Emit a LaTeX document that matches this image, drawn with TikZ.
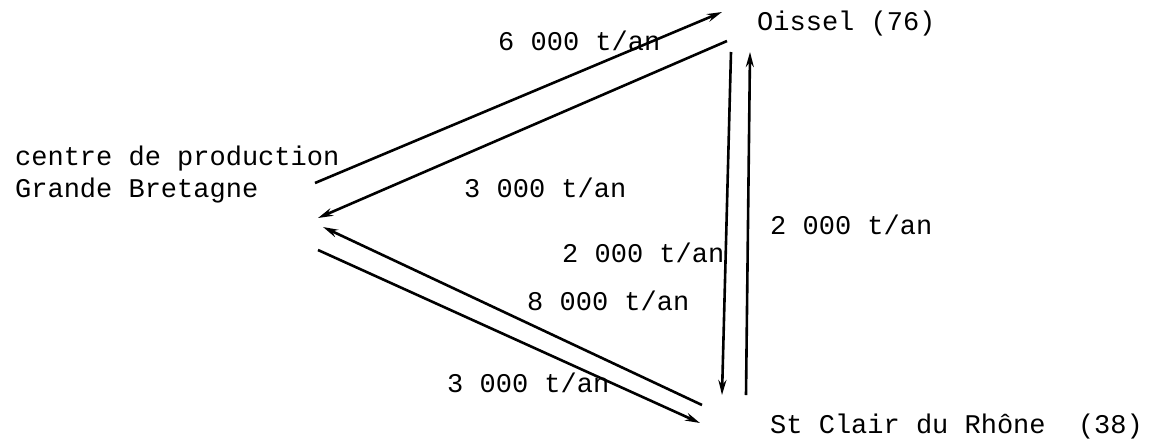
\documentclass[tikz,border=0pt]{standalone}
\usepackage{fontspec}
\setmonofont{Liberation Mono}
\usetikzlibrary{arrows.meta}
\begin{document}
\begin{tikzpicture}[x=1pt,y=-1pt,
  lbl/.style={inner sep=0pt,anchor=base west,font=\ttfamily\fontsize{27}{30}\selectfont},
  flow/.style={line width=2.6pt,-{Stealth[length=15pt,width=8pt]}}]
\useasboundingbox (0,0) rectangle (1153,445);
% labels
\node[lbl] (oissel) at (757,30) {Oissel (76)};
\node[lbl] (gb1) at (15,165) {centre de production};
\node[lbl] (gb2) at (15,197) {Grande Bretagne};
\node[lbl] (stc) at (770,433) {St Clair du Rhône\ \ (38)};
\node[lbl] (l1) at (498,50) {6 000 t/an};
\node[lbl] (l2) at (464,197) {3 000 t/an};
\node[lbl] (l3) at (770,234) {2 000 t/an};
\node[lbl] (l4) at (562,262) {2 000 t/an};
\node[lbl] (l5) at (527,310) {8 000 t/an};
\node[lbl] (l6) at (447,392) {3 000 t/an};
% end points
\coordinate (a1) at (315,183); \coordinate (a2) at (722,12);
\coordinate (b1) at (727,41);  \coordinate (b2) at (318,218);
\coordinate (c1) at (702,405); \coordinate (c2) at (323,227);
\coordinate (d1) at (318,250); \coordinate (d2) at (700,423);
\coordinate (e1) at (731,52);  \coordinate (e2) at (722,395);
\coordinate (f1) at (746,395); \coordinate (f2) at (750,52);
% connectors
\draw[flow] (a1) -- (a2);
\draw[flow] (b1) -- (b2);
\draw[flow] (c1) -- (c2);
\draw[flow] (d1) -- (d2);
\draw[flow] (e1) -- (e2);
\draw[flow] (f1) -- (f2);
\end{tikzpicture}
\end{document}
